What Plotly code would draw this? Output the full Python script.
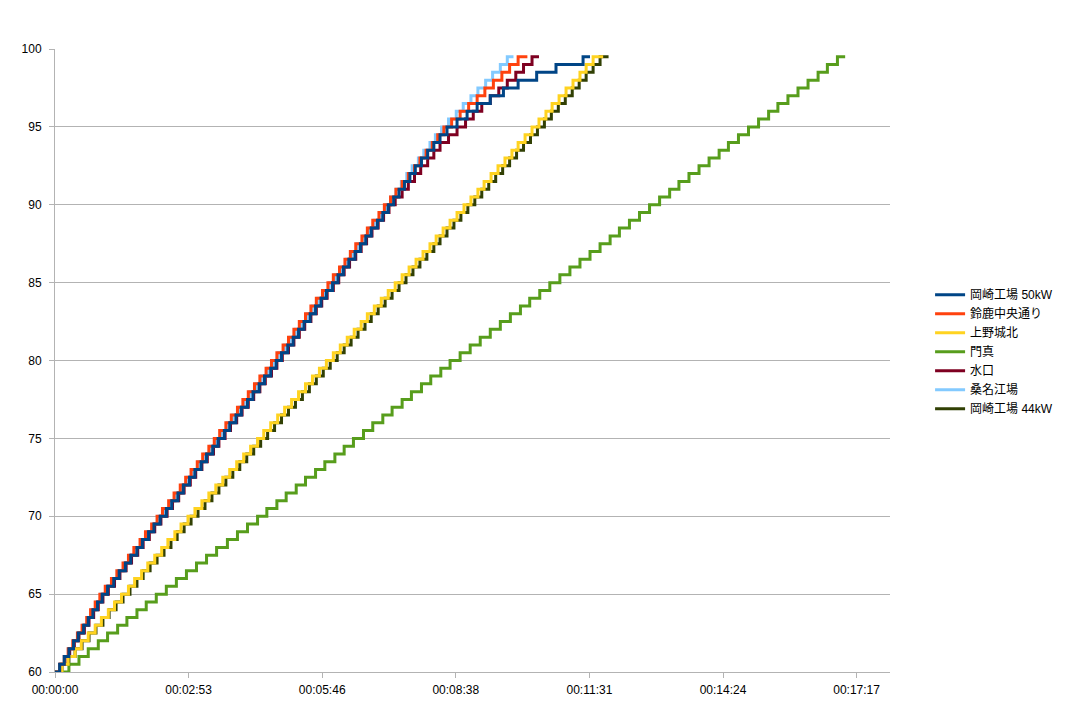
import plotly.graph_objects as go

# SOC levels (%) reached at each step
SOC_LEVELS = [60.0, 60.5, 61.0, 61.5, 62.0, 62.5, 63.0, 63.5, 64.0, 64.5,
              65.0, 65.5, 66.0, 66.5, 67.0, 67.5, 68.0, 68.5, 69.0, 69.5,
              70.0, 70.5, 71.0, 71.5, 72.0, 72.5, 73.0, 73.5, 74.0, 74.5,
              75.0, 75.5, 76.0, 76.5, 77.0, 77.5, 78.0, 78.5, 79.0, 79.5,
              80.0, 80.5, 81.0, 81.5, 82.0, 82.5, 83.0, 83.5, 84.0, 84.5,
              85.0, 85.5, 86.0, 86.5, 87.0, 87.5, 88.0, 88.5, 89.0, 89.5,
              90.0, 90.5, 91.0, 91.5, 92.0, 92.5, 93.0, 93.5, 94.0, 94.5,
              95.0, 95.5, 96.0, 96.5, 97.0, 97.5, 98.0, 98.5, 99.0, 99.5]

# elapsed seconds at which each level was reached, plus the final end time
okazaki50 = [0, 6, 12, 18, 24, 30, 37, 43, 49, 55, 61,
             68, 76, 83, 91, 98, 106, 113, 121, 128, 136,
             144, 151, 159, 166, 174, 181, 189, 196, 204, 211, 219, 226, 234, 241, 249, 256, 264, 271, 279, 286,
             293, 301, 308, 315, 322, 330, 337, 344, 351, 359, 366, 373, 380, 388, 395, 402, 409, 417, 424, 431,
             438, 445, 452, 459, 466, 474, 482, 490, 498,
             507, 520, 533, 546, 563, 580, 599, 623, 648, 683]
okazaki50_end = 692

suzuka = [0, 6, 12, 17, 23, 29, 35, 41, 46, 52, 58,
          65, 73, 80, 88, 95, 102, 110, 117, 125, 132,
          139, 147, 154, 162, 169, 176, 184, 191, 199, 206, 213, 221, 228, 236, 243, 250, 258, 265, 273, 280,
          287, 295, 302, 309, 316, 324, 331, 338, 346, 353, 360, 368, 375, 382, 389, 397, 404, 411, 419, 426,
          434, 441, 449, 457, 465, 472, 480, 488, 495, 503,
          513, 524, 535, 546, 556, 567, 578, 588, 599]
suzuka_end = 611

uenojohoku = [0, 9, 17, 26, 34, 43, 52, 60, 69, 77, 86, 95, 103, 112, 120, 129, 138, 146, 155, 163, 172,
              181, 190, 199, 208, 217, 226, 235, 244, 253, 262, 270, 279, 288, 297, 306, 315, 324, 333, 342, 351,
              360, 369, 378, 387, 396, 404, 413, 422, 431, 440, 449, 458, 467, 476, 485, 493, 502, 511, 520, 529,
              538, 547, 555, 564, 573, 582, 591, 599, 608, 617, 626, 635, 643, 652, 661, 670, 679, 687, 696]
uenojohoku_end = 709

kadoma = [6, 18, 31, 43, 56, 68, 81, 93, 106, 118, 131,
          144, 157, 170, 183, 196, 209, 223, 236, 249, 262,
          274, 287, 299, 312, 324, 337, 349, 362, 374, 386, 399, 411, 424, 436, 449, 461, 474, 486, 499, 511,
          524, 537, 550, 563, 576, 589, 602, 614, 627, 640, 653, 666, 679, 692, 705, 718, 730, 743, 756, 769,
          782, 795, 807, 820, 833, 846, 859, 871, 884, 897, 910, 923, 935, 948, 961, 974, 987, 999, 1012]
kadoma_end = 1022

minakuchi = [0, 7, 13, 19, 25, 31, 38, 44, 50, 56, 62,
             69, 77, 84, 92, 99, 107, 114, 122, 129, 137,
             145, 152, 160, 167, 175, 182, 190, 197, 205, 212, 220, 227, 235, 242, 250, 257, 265, 272, 280, 287,
             294, 302, 309, 316, 323, 331, 338, 345, 352, 360, 367, 374, 381, 389, 396, 403, 410, 418, 425, 432,
             440, 449, 457, 465, 473, 482, 490, 498,
             509, 520, 531, 541, 552, 563, 574, 585, 596, 606, 617]
minakuchi_end = 626

kuwana = [0, 6, 12, 18, 24, 30, 36, 42, 47, 53, 59,
          67, 75, 82, 90, 97, 104, 112, 119, 127, 134,
          141, 149, 156, 164, 171, 178, 186, 193, 201, 208, 215, 223, 230, 238, 245, 252, 260, 267, 275, 282,
          289, 297, 304, 311, 318, 326, 333, 340, 348, 355, 362, 370, 377, 384, 391, 399, 406, 413, 421, 428,
          434, 441, 448, 455, 462, 470, 477, 485, 492, 500,
          509, 519, 528, 538, 547, 557, 566, 576, 585]
kuwana_end = 593

okazaki44 = [0, 9, 18, 26, 35, 44, 53, 62, 70, 79, 88, 97, 106, 114, 123, 132, 141, 150, 158, 167, 176,
             185, 194, 203, 212, 221, 230, 239, 248, 257, 266, 275, 284, 293, 302, 311, 320, 329, 338, 347, 356,
             365, 374, 383, 392, 401, 409, 418, 427, 436, 445, 454, 463, 472, 481, 490, 498, 507, 516, 525, 534,
             543, 552, 561, 570, 579, 588, 597, 606, 615, 624, 633, 642, 651, 660, 669, 678, 687, 696, 705]
okazaki44_end = 716

SERIES_NAMES = ["岡崎工場 50kW", "鈴鹿中央通り", "上野城北", "門真", "水口", "桑名江場", "岡崎工場 44kW"]
SERIES_TIMES = [okazaki50, suzuka, uenojohoku, kadoma, minakuchi, kuwana, okazaki44]
SERIES_ENDS = [okazaki50_end, suzuka_end, uenojohoku_end, kadoma_end, minakuchi_end, kuwana_end, okazaki44_end]
COLORS = ["#004586", "#ff420e", "#ffd320", "#579d1c", "#7e0021", "#83caff", "#314004"]

X_TICK_VALUES = [0, 172.8, 345.6, 518.4, 691.2, 864, 1036.8]
X_TICK_LABELS = ["00:00:00", "00:02:53", "00:05:46", "00:08:38", "00:11:31", "00:14:24", "00:17:17"]
Y_TICKS = [60, 65, 70, 75, 80, 85, 90, 95, 100]

FONT = "Liberation Sans, Arial, Noto Sans CJK JP, sans-serif"
GRID = "#b3b3b3"

fig = go.Figure()
# first series is drawn on top, so add in reverse order
for name, times, end, color in reversed(list(zip(SERIES_NAMES, SERIES_TIMES, SERIES_ENDS, COLORS))):
    fig.add_trace(go.Scatter(
        x=list(times) + [end],
        y=list(SOC_LEVELS) + [SOC_LEVELS[-1]],
        mode="lines",
        name=name,
        line=dict(color=color, width=3, shape="hv"),
    ))

ML, MR, MT, MB = 47, 187, 41, 46
PW = 1069 - ML - MR
PH = 710 - MT - MB

fig.update_layout(
    width=1069, height=710,
    margin=dict(l=ML, r=MR, t=MT, b=MB),
    paper_bgcolor="white", plot_bgcolor="white",
    font=dict(family=FONT, size=12, color="#000000"),
    showlegend=True,
    legend=dict(traceorder="reversed", x=1.048, xanchor="left", y=0.514, yanchor="middle",
                font=dict(family=FONT, size=12, color="#000000"), bgcolor="rgba(0,0,0,0)",
                itemwidth=30, tracegroupgap=0),
    xaxis=dict(range=[0, 1080], tickmode="array", tickvals=X_TICK_VALUES, ticktext=X_TICK_LABELS,
               showgrid=False, zeroline=False, showline=True, linecolor=GRID, linewidth=1,
               ticks="outside", ticklen=5, tickcolor=GRID, ticklabelstandoff=2,
               tickfont=dict(size=12, color="#000000")),
    yaxis=dict(range=[60, 100], tickmode="array", tickvals=Y_TICKS,
               showgrid=True, gridcolor=GRID, gridwidth=1, zeroline=False,
               showline=True, linecolor=GRID, linewidth=1,
               ticks="outside", ticklen=5, tickcolor=GRID, ticklabelstandoff=5,
               tickfont=dict(size=12, color="#000000")),
)

# dashed page-edge marker at the right border
xe = (1058 - ML) / PW
fig.add_shape(type="line", xref="paper", yref="paper",
              x0=xe, x1=xe, y0=-MB / PH, y1=(710 - MB) / PH,
              line=dict(color="#b0b0b0", width=1, dash="3px,13px"))

fig.write_html("out.html")
